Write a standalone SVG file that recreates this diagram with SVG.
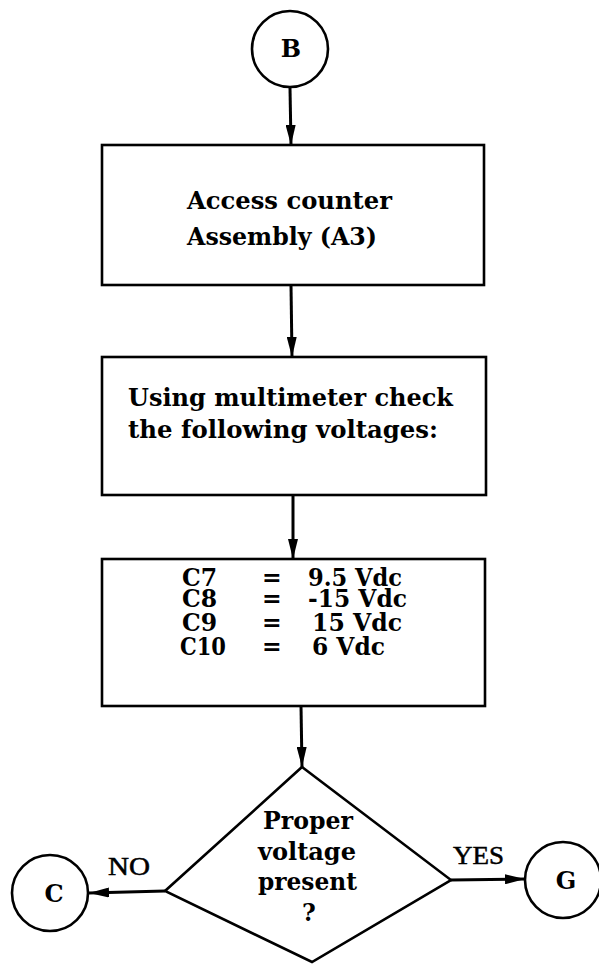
<svg xmlns="http://www.w3.org/2000/svg" width="599" height="964" viewBox="0 0 599 964">
<style>
.shape{fill:#fff;stroke:#000;stroke-width:2.6}
.conn{stroke:#000;stroke-width:3;fill:none}
.t{font-family:"DejaVu Serif","Liberation Serif",serif;font-weight:bold;font-size:25px;fill:#000}
.r{font-size:23.5px}
.c{font-family:"DejaVu Serif","Liberation Serif",serif;font-weight:bold;font-size:24px;fill:#000;text-anchor:middle}
.lbl{font-family:"Liberation Serif","Times New Roman",serif;font-size:25px;fill:#000;stroke:#000;stroke-width:0.5}
</style>
<defs>
<marker id="ah" viewBox="0 0 20 10" markerWidth="20" markerHeight="10" refX="20" refY="5" orient="auto" markerUnits="userSpaceOnUse">
<path d="M0,0 L20,5 L0,10 z" fill="#000"/>
</marker>
</defs>
<rect width="599" height="964" fill="#fff"/>
<g id="connectors">
<line class="conn" x1="290" y1="88" x2="291" y2="145" marker-end="url(#ah)"/>
<line class="conn" x1="291" y1="285" x2="292" y2="357" marker-end="url(#ah)"/>
<line class="conn" x1="293" y1="495" x2="293" y2="559" marker-end="url(#ah)"/>
<line class="conn" x1="301" y1="706" x2="302" y2="767" marker-end="url(#ah)"/>
<line class="conn" x1="165" y1="891" x2="89" y2="893" marker-end="url(#ah)"/>
<line class="conn" x1="451" y1="880" x2="525" y2="879" marker-end="url(#ah)"/>
<text class="lbl" x="108" y="875" textLength="42" lengthAdjust="spacingAndGlyphs">NO</text>
<text class="lbl" x="453" y="864" textLength="51" lengthAdjust="spacingAndGlyphs">YES</text>
</g>
<g id="nodeB">
<circle class="shape" cx="290" cy="49" r="38"/>
<text class="c" x="291" y="57">B</text>
</g>
<g id="box1">
<rect class="shape" x="102" y="145" width="382" height="140"/>
<text class="t" x="187" y="209" textLength="205" lengthAdjust="spacingAndGlyphs">Access counter</text>
<text class="t" x="187" y="245" textLength="190" lengthAdjust="spacingAndGlyphs">Assembly (A3)</text>
</g>
<g id="box2">
<rect class="shape" x="102" y="357" width="384" height="138"/>
<text class="t" x="128" y="406" textLength="325" lengthAdjust="spacingAndGlyphs">Using multimeter check</text>
<text class="t" x="128" y="438" textLength="310" lengthAdjust="spacingAndGlyphs">the following voltages:</text>
</g>
<g id="box3">
<rect class="shape" x="102" y="559" width="383" height="147"/>
<text class="t r" x="182" y="586">C7</text>
<text class="t r" x="262" y="586">=</text>
<text class="t r" x="308" y="586" textLength="94" lengthAdjust="spacingAndGlyphs">9.5 Vdc</text>
<text class="t r" x="182" y="607">C8</text>
<text class="t r" x="262" y="607">=</text>
<text class="t r" x="308" y="607" textLength="99" lengthAdjust="spacingAndGlyphs">-15 Vdc</text>
<text class="t r" x="182" y="631">C9</text>
<text class="t r" x="262" y="631">=</text>
<text class="t r" x="312" y="631" textLength="90" lengthAdjust="spacingAndGlyphs">15 Vdc</text>
<text class="t r" x="180" y="655" textLength="46" lengthAdjust="spacingAndGlyphs">C10</text>
<text class="t r" x="262" y="655">=</text>
<text class="t r" x="312" y="655" textLength="73" lengthAdjust="spacingAndGlyphs">6 Vdc</text>
</g>
<g id="decision">
<polygon class="shape" points="302,767 451,880 312,962 165,891"/>
<text class="t r" x="263" y="829" textLength="90" lengthAdjust="spacingAndGlyphs">Proper</text>
<text class="t r" x="258" y="860" textLength="98" lengthAdjust="spacingAndGlyphs">voltage</text>
<text class="t r" x="258" y="890" textLength="99" lengthAdjust="spacingAndGlyphs">present</text>
<text class="t r" x="309" y="921" text-anchor="middle">?</text>
</g>
<g id="nodeC">
<circle class="shape" cx="50" cy="893" r="38"/>
<text class="c" x="54" y="902">C</text>
</g>
<g id="nodeG">
<circle class="shape" cx="563" cy="880" r="38"/>
<text class="c" x="566" y="889">G</text>
</g>
</svg>
